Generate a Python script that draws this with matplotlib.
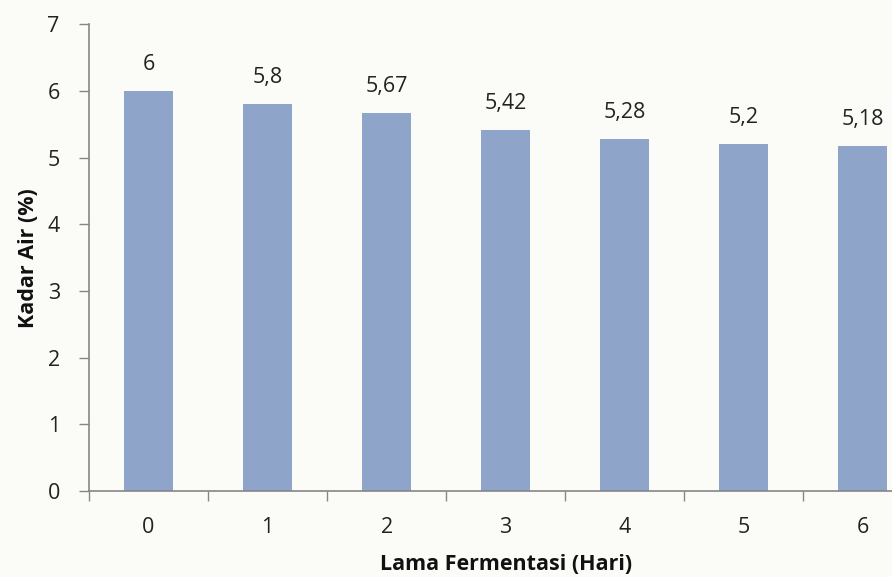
import matplotlib
matplotlib.use("Agg")
import matplotlib.pyplot as plt

# Moisture content over fermentation days
days = ["0", "1", "2", "3", "4", "5", "6"]
kadar_air = [6.0, 5.8, 5.67, 5.42, 5.28, 5.2, 5.18]
value_labels = ["6", "5,8", "5,67", "5,42", "5,28", "5,2", "5,18"]
y_ticks = [0, 1, 2, 3, 4, 5, 6, 7]

plt.rcParams["font.family"] = ["Open Sans", "DejaVu Sans"]

bg = "#fbfcf8"
fig = plt.figure(figsize=(8.92, 5.77), dpi=100, facecolor=bg)
ax = fig.add_axes([0.0998, 0.149, 0.934, 0.809])
ax.set_facecolor(bg)

x = list(range(len(days)))
bars = ax.bar(x, kadar_air, width=0.41, color="#8ea5c9", zorder=2)

for xi, v, lab in zip(x, kadar_air, value_labels):
    ax.annotate(lab, (xi, v), xytext=(0, 15), textcoords="offset points",
                ha="center", va="baseline", fontsize=15.5, color="#222222")

ax.set_xlim(-0.5, len(days) - 0.5)
ax.set_ylim(0, 7)
ax.set_yticks(y_ticks)
ax.set_yticklabels([str(t) for t in y_ticks])
ax.set_xticks(x)
ax.set_xticklabels(days)
ax.set_xticks([i - 0.5 for i in range(len(days) + 1)], minor=True)

ax.tick_params(axis="y", direction="out", length=7, width=1, color="#868686",
               pad=14, labelsize=15.5, labelcolor="#222222")
ax.tick_params(axis="x", which="major", length=0, pad=19, labelsize=15.5,
               labelcolor="#222222")
ax.tick_params(axis="x", which="minor", direction="out", length=7, width=1,
               color="#868686")

for side in ("top", "right"):
    ax.spines[side].set_visible(False)
for side in ("left", "bottom"):
    ax.spines[side].set_color("#868686")
    ax.spines[side].set_linewidth(1.2)

ax.set_ylabel("Kadar Air (%)", fontsize=15.5, fontweight="bold", color="#111111",
              labelpad=6)
ax.set_xlabel("Lama Fermentasi (Hari)", fontsize=15.5, fontweight="bold",
              color="#111111", labelpad=11)

fig.savefig("out.png", dpi=100, facecolor=bg)
